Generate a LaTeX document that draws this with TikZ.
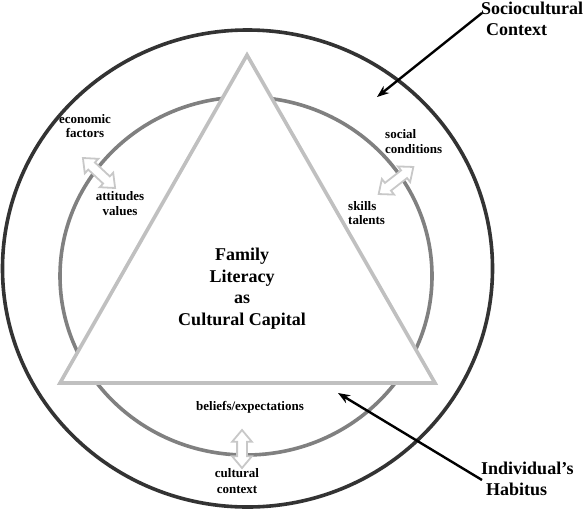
\documentclass[tikz,border=0pt]{standalone}
\usepackage{fontspec}
\setmainfont{Liberation Serif}
\usetikzlibrary{arrows.meta,shapes.arrows}
\definecolor{outerc}{HTML}{333333}
\definecolor{innerc}{HTML}{808080}
\definecolor{tric}{HTML}{C0C0C0}
\definecolor{arrc}{HTML}{C8C8C8}
\tikzset{
  big/.style={font=\bfseries\fontsize{18}{21.5}\selectfont, align=center, inner sep=0pt},
  small/.style={font=\bfseries\fontsize{13}{14.5}\selectfont, align=center, inner sep=0pt},
  fatarrow/.style={double arrow, draw=arrc, fill=white, line width=1.8pt, minimum height=44pt,
    inner sep=4pt, double arrow head extend=5pt, double arrow tip angle=80},
  pointer/.style={draw=black, line width=2.4pt, -{Stealth[length=12pt,width=9pt]}}
}
\begin{document}
\begin{tikzpicture}[x=1pt,y=-1pt]
\useasboundingbox (0,0) rectangle (588,512);
\fill[white] (0,0) rectangle (588,512);
% outer circle
\draw[outerc, line width=3.6pt] (247.5,268.5) ellipse [x radius=245, y radius=238.5];
% inner circle
\draw[innerc, line width=3.6pt] (246,276) ellipse [x radius=186, y radius=179];
% triangle
\draw[tric, fill=white, line width=3.6pt, line join=miter] (247,55) -- (60,383) -- (435,383) -- cycle;
% double arrows
\node[fatarrow, rotate=-43] (a1) at (99,173) {};
\node[fatarrow, rotate=38] (a2) at (396,180.5) {};
\node[fatarrow, rotate=90, minimum height=38pt] (a3) at (242,449) {};
% labels
\node[big] (center) at (242,288.5) {Family\\Literacy\\as\\Cultural Capital};
\node[small] (econ) at (85,126) {economic\\factors};
\node[small] (att) at (120,203.5) {attitudes\\values};
\node[small, align=left, anchor=west] (soc) at (385,141.5) {social\\conditions};
\node[small, align=left, anchor=west] (skills) at (348,213) {skills\\talents};
\node[small] (bel) at (250,407) {beliefs/expectations};
\node[small, font=\bfseries\fontsize{13}{16}\selectfont] (cult) at (237,481) {cultural\\context};
\node[big, align=left, anchor=west] (socio) at (481,19) {Sociocultural\\\hspace*{5pt}Context};
\node[big, align=left, anchor=west] (habit) at (481,479) {Individual's\\\hspace*{5pt}Habitus};
% pointers
\coordinate (p1s) at (482,13);
\coordinate (p1e) at (377,97);
\coordinate (p2s) at (482,480);
\coordinate (p2e) at (338,393);
\draw[pointer] (p1s) -- (p1e);
\draw[pointer] (p2s) -- (p2e);
\end{tikzpicture}
\end{document}
